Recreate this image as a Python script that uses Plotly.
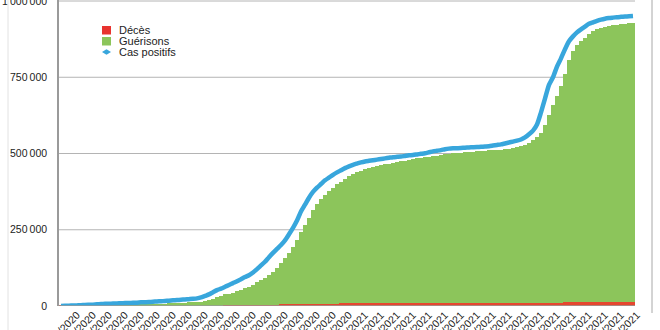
import pandas as pd
import plotly.graph_objects as go

# ---- data (thousands) ----
start_date = "2020-03-15"
step_days = 4
cas_positifs_k = [
    0.1, 0.5, 1, 1.5, 2, 2.5, 3.5, 4, 4.5, 5.5,
    6.5, 7, 7.5, 8, 8.5, 9, 9.5, 10, 10.5, 11,
    12, 12.5, 13, 14, 15, 15.5, 16.5, 17.5, 18.5, 19.5,
    20.5, 21.5, 22.5, 23.5, 25, 28, 33, 38, 45, 52,
    57, 63, 69, 75, 81, 88, 95, 101, 110, 121,
    133, 145, 160, 174, 187, 200, 215, 235, 256, 280,
    310, 332, 355, 374, 388, 400, 412, 421, 430, 438,
    445, 452, 458, 463, 467, 471, 474, 476, 478, 480,
    482, 484, 486, 488, 489, 490, 492, 494, 495, 497,
    499, 501, 504, 507, 509, 511, 514, 516, 517, 517.5,
    518, 519, 520, 520.5, 521, 522, 523, 524, 526, 528,
    530, 533, 536, 539, 542, 546, 553, 563, 575, 595,
    635, 680, 725, 750, 785, 812, 842, 868, 884, 897,
    907, 916, 925, 930, 935, 939, 942, 944, 945.5, 947,
    948, 949, 950, 951,
]
guerisons_k = [
    0, 0, 0.05, 0.1, 0.15, 0.2, 0.3, 0.4, 0.6, 0.9,
    1.3, 1.8, 2.3, 2.8, 3.2, 3.6, 4.0, 4.3, 4.6, 4.9,
    5.2, 5.5, 6.0, 6.4, 6.8, 7.2, 7.6, 8.0, 8.5, 9.0,
    9.4, 10.3, 11.2, 12.1, 12.5, 12.9, 14.8, 17.7, 21.6, 26.5,
    31.4, 36.2, 39, 41.8, 45.6, 50.4, 55.2, 59, 66.8, 74.6,
    82.4, 89.1, 97.8, 107.5, 120.2, 136.9, 152.6, 169.3, 187, 208.7,
    236.4, 259.1, 282.9, 307.7, 325.5, 342.3, 356.1, 368, 379.9, 390.8,
    399.7, 407.6, 417.5, 424.5, 430.4, 435.4, 439.3, 443.3, 447.2, 451.2,
    454.1, 456.1, 458.1, 461, 463, 465, 467.9, 469.9, 472.9, 474.8,
    476.8, 478.8, 479.8, 481.7, 483.7, 485.7, 487.7, 489.6, 491.6, 492.6,
    493.6, 494.6, 495.5, 496.5, 497.5, 498.5, 499.5, 500.4, 501.4, 502.4,
    503.4, 504.3, 506.3, 508.3, 510.2, 513.2, 518.1, 526.1, 535, 542.9,
    557.8, 584.7, 614.5, 649.3, 677.1, 708.8, 748.5, 793.2, 822.9, 843.6,
    855.3, 867, 879.7, 888.5, 894.3, 899.1, 902, 903.9, 905.8, 907.7,
    909.6, 911.5, 912.5, 913.4,
]
deces_k = [
    0.05, 0.1, 0.1, 0.15, 0.15, 0.2, 0.2, 0.2, 0.2, 0.2,
    0.2, 0.2, 0.2, 0.2, 0.2, 0.2, 0.25, 0.25, 0.25, 0.25,
    0.3, 0.3, 0.3, 0.3, 0.35, 0.4, 0.4, 0.45, 0.5, 0.55,
    0.6, 0.7, 0.8, 0.9, 1.0, 1.1, 1.2, 1.3, 1.4, 1.5,
    1.6, 1.8, 2.0, 2.2, 2.4, 2.6, 2.8, 3.0, 3.2, 3.4,
    3.6, 3.9, 4.2, 4.5, 4.8, 5.1, 5.4, 5.7, 6.0, 6.3,
    6.6, 6.9, 7.1, 7.3, 7.5, 7.7, 7.9, 8.0, 8.1, 8.2,
    8.3, 8.4, 8.5, 8.55, 8.6, 8.65, 8.7, 8.75, 8.8, 8.85,
    8.9, 8.9, 8.95, 9.0, 9.0, 9.05, 9.1, 9.1, 9.15, 9.2,
    9.2, 9.2, 9.25, 9.3, 9.3, 9.3, 9.35, 9.4, 9.4, 9.4,
    9.45, 9.45, 9.5, 9.5, 9.5, 9.55, 9.55, 9.6, 9.6, 9.6,
    9.65, 9.7, 9.7, 9.75, 9.8, 9.85, 9.9, 9.95, 10.0, 10.1,
    10.2, 10.3, 10.5, 10.7, 10.9, 11.2, 11.5, 11.8, 12.1, 12.4,
    12.7, 13.0, 13.3, 13.5, 13.7, 13.9, 14.0, 14.1, 14.2, 14.3,
    14.4, 14.5, 14.5, 14.6,
]
y_tickvals = [0, 250000, 500000, 750000, 1000000]
y_ticktext = ["0", "250\u2009000", "500\u2009000", "750\u2009000", "1\u2009000\u2009000"]
first_x_tick = "2020-03-31"
x_tick_step_days = 16
legend_labels = ["Décès", "Guérisons", "Cas positifs"]

# ---- styles ----
RED = "#e5472f"
GREEN = "#8cc55b"
BLUE = "#38a6dc"
GRID = "#b4b4b4"
W, H = 660, 330
ML, MR, MT, MB = 59, 8, 0, 24
PW, PH = W - ML - MR, H - MT - MB
Y_TOP = 1000000 * PH / (PH - 1)

n = len(cas_positifs_k)
dates = pd.date_range(start_date, periods=n, freq=f"{step_days}D")
cas = [v * 1000 for v in cas_positifs_k]
gue = [v * 1000 for v in guerisons_k]
dec = [v * 1000 for v in deces_k]

def px(x):
    return (x - ML) / PW

def py(y):
    return (H - MB - y) / PH

fig = go.Figure()
fig.add_trace(go.Bar(x=dates, y=dec, marker=dict(color=RED, line=dict(width=0)), name=legend_labels[0], showlegend=False))
fig.add_trace(go.Bar(x=dates, y=gue, marker=dict(color=GREEN, line=dict(width=0)), name=legend_labels[1], showlegend=False))
fig.add_trace(go.Scatter(x=dates, y=cas, mode="lines", line=dict(color=BLUE, width=4.5, shape="spline", smoothing=0.6),
                         name=legend_labels[2], showlegend=False))

x_start = dates[0] - pd.Timedelta(days=2)
x_data_end = dates[-1] + pd.Timedelta(days=2)
x_range_end = x_start + pd.Timedelta(days=PW)
x_tickvals = pd.date_range(first_x_tick, x_range_end, freq=f"{x_tick_step_days}D")

shapes = []
for v in y_tickvals[1:]:
    shapes.append(dict(type="line", xref="x", yref="y", x0=x_start, x1=x_data_end, y0=v, y1=v,
                       line=dict(color=GRID, width=1), layer="below"))
# x axis line
shapes.append(dict(type="line", xref="x", yref="y", x0=x_start, x1=x_data_end, y0=0, y1=0,
                   line=dict(color="#9a9a9a", width=1.5), layer="above"))
# frame lines
shapes.append(dict(type="line", xref="paper", yref="paper", x0=px(652), x1=px(652), y0=py(313), y1=py(0),
                   line=dict(color="#a8a8a8", width=1)))
shapes.append(dict(type="line", xref="paper", yref="paper", x0=px(8), x1=px(8), y0=py(330), y1=py(0),
                   line=dict(color="#e2e2e2", width=1)))
# legend symbols
shapes.append(dict(type="rect", xref="paper", yref="paper", x0=px(102), x1=px(111), y0=py(34.5), y1=py(26),
                   fillcolor="#e8332f", line=dict(width=0)))
shapes.append(dict(type="rect", xref="paper", yref="paper", x0=px(102), x1=px(111), y0=py(45.5), y1=py(37),
                   fillcolor=GREEN, line=dict(width=0)))
cx, cy = 106.5, 52
shapes.append(dict(type="path", xref="paper", yref="paper",
                   path=f"M {px(cx-4.5)} {py(cy)} L {px(cx)} {py(cy-2.8)} L {px(cx+4.5)} {py(cy)} L {px(cx)} {py(cy+2.8)} Z",
                   fillcolor=BLUE, line=dict(width=0)))

annotations = []
for lab, yy in zip(legend_labels, [30.5, 41.5, 52.5]):
    annotations.append(dict(text=lab, xref="paper", yref="paper", x=px(117), y=py(yy),
                            xanchor="left", yanchor="middle", showarrow=False,
                            font=dict(size=11, color="#222222", family="Liberation Sans, Arial, sans-serif")))

fig.update_layout(
    width=W, height=H,
    margin=dict(l=ML, r=MR, t=MT, b=MB, autoexpand=False),
    paper_bgcolor="white", plot_bgcolor="white",
    barmode="stack", bargap=0.12,
    font=dict(family="Liberation Sans, Arial, sans-serif", color="#222222"),
    shapes=shapes, annotations=annotations,
    showlegend=False,
)
fig.update_xaxes(
    type="date", range=[x_start, x_range_end],
    showgrid=False, zeroline=False, showline=False,
    tickvals=x_tickvals, tickformat="%d/%m/%Y",
    tickangle=-45, tickfont=dict(size=10.5, color="#222222"), automargin=False,
    ticks="", ticklabeloverflow="allow",
)
fig.update_yaxes(
    range=[0, Y_TOP], tickvals=y_tickvals, ticktext=y_ticktext,
    showgrid=False, zeroline=False, showline=True, linecolor="#9a9a9a", linewidth=1.5,
    tickfont=dict(size=10.5, color="#222222"), ticks="", ticklabelstandoff=8, automargin=False,
    ticklabeloverflow="allow",
)

fig.write_html("out.html")
